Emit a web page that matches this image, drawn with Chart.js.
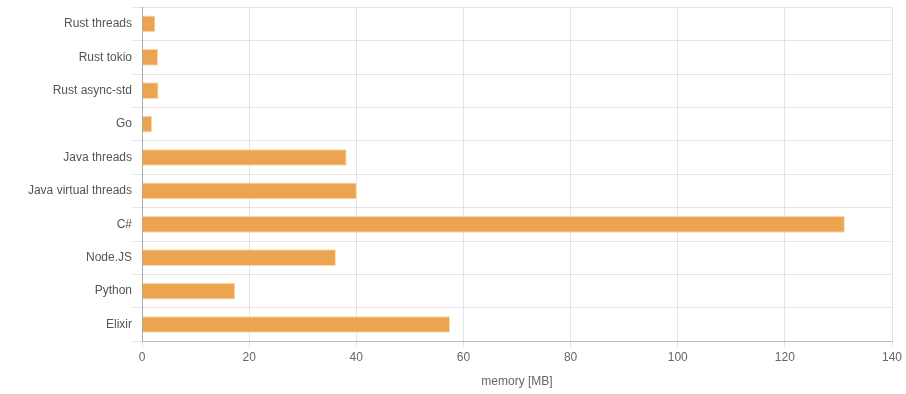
<!DOCTYPE html>
<html>
<head>
<meta charset="utf-8">
<script src="https://cdn.jsdelivr.net/npm/chart.js@4"></script>
<style>
  html, body { margin: 0; padding: 0; background: #fff; }
  #wrap { width: 906px; height: 394px; }
</style>
</head>
<body>
<div id="wrap"><canvas id="chart"></canvas></div>
<script>
var languages = ['Rust threads', 'Rust tokio', 'Rust async-std', 'Go', 'Java threads',
                 'Java virtual threads', 'C#', 'Node.JS', 'Python', 'Elixir'];
var memory_mb = [2.5, 3.0, 3.1, 1.9, 38.2, 40.1, 131.2, 36.2, 17.4, 57.5];
var axis_title = 'memory [MB]';

Chart.defaults.font.family = '"Liberation Sans", Arial, sans-serif';
Chart.defaults.font.size = 12;
Chart.defaults.color = '#666';

var ctx = document.getElementById('chart');
var memory_chart = new Chart(ctx, {
    type: 'bar',
    data: {
        labels: languages,
        datasets: [
            {
                data: memory_mb,
                backgroundColor: '#eca450',
                borderColor: 'rgba(248, 214, 168, 0.9)',
                borderWidth: 1,
                barPercentage: 0.5,
                categoryPercentage: 1,
            },
        ],
    },
    options: {
        indexAxis: 'y',
        responsive: true,
        maintainAspectRatio: false,
        animation: false,
        layout: {
            padding: { top: 5, right: 14, left: 0, bottom: 1 }
        },
        plugins: {
            legend: { display: false },
            tooltip: { enabled: false }
        },
        scales: {
            x: {
                min: 0,
                max: 140,
                ticks: { stepSize: 20, color: '#666', padding: 3 },
                grid: { color: 'rgba(0,0,0,0.1)', tickLength: 6 },
                border: { color: '#bbb' },
                title: { display: true, text: axis_title, color: '#666', padding: { top: 7, bottom: 4 } }
            },
            y: {
                ticks: { color: '#555', padding: 0 },
                grid: { color: 'rgba(0,0,0,0.1)', tickLength: 10 },
                border: { color: '#aaa' },
                afterFit: function (scale) { scale.width = 142; }
            }
        }
    }
});
</script>
</body>
</html>
